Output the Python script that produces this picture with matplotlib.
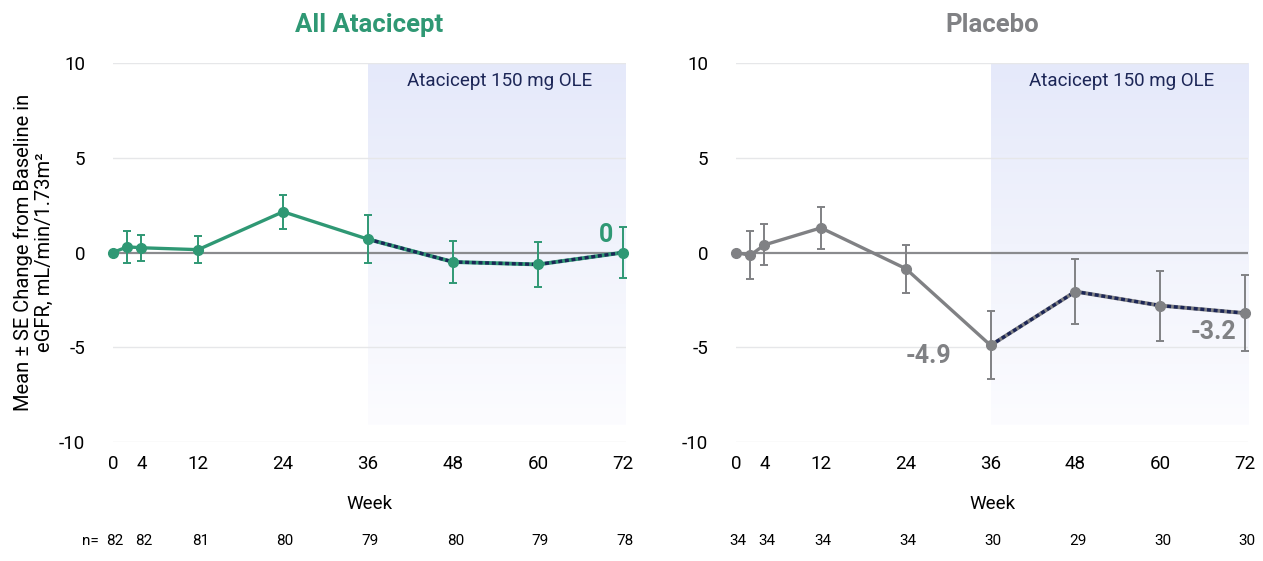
import numpy as np
import matplotlib
matplotlib.use("Agg")
import matplotlib.pyplot as plt
from matplotlib.colors import LinearSegmentedColormap

plt.rcParams['font.family'] = ['Roboto', 'DejaVu Sans']
plt.rcParams['axes.unicode_minus'] = False

# Visit weeks with measurements, and the weeks shown on the x axis
weeks = [0, 2, 4, 12, 24, 36, 48, 60, 72]
tick_weeks = [0, 4, 12, 24, 36, 48, 60, 72]

# Mean change in eGFR and standard error per visit
atacicept_mean = [0.0, 0.3, 0.25, 0.15, 2.15, 0.7, -0.5, -0.63, 0.0]
atacicept_se = [0.0, 0.83, 0.7, 0.7, 0.9, 1.27, 1.1, 1.2, 1.32]
placebo_mean = [0.0, -0.15, 0.4, 1.3, -0.85, -4.9, -2.06, -2.8, -3.2]
placebo_se = [0.0, 1.27, 1.08, 1.12, 1.27, 1.8, 1.73, 1.85, 2.0]

# Patients at each x tick
atacicept_n = [82, 82, 81, 80, 79, 80, 79, 78]
placebo_n = [34, 34, 34, 34, 30, 29, 30, 30]

GREEN = '#2F9874'
GREY = '#808184'
NAVY = '#1C2657'
OLE_START = 36

shade_cmap = LinearSegmentedColormap.from_list('ole', ['#FCFCFF', '#F1F3FC', '#E5E9FA'])


def draw_panel(ax, title, colour, mean, se, n_values, first_panel):
    ax.set_xlim(0, 72.4)
    ax.set_ylim(-10, 10)

    # open-label extension shading, fading towards the bottom
    grad = np.linspace(0, 1, 256).reshape(-1, 1)
    ax.imshow(grad, cmap=shade_cmap, origin='lower', aspect='auto',
              extent=[OLE_START, 72.4, -9.1, 10], zorder=0)
    ax.text(54.5, 9.05, 'Atacicept 150 mg OLE', color=NAVY, fontsize=13.5,
            ha='center', va='center', zorder=2)

    for y in [-10, -5, 5, 10]:
        ax.axhline(y, color='#E6E7E9', lw=1, zorder=1)
    ax.axhline(0, color='#8A8B8E', lw=1.6, zorder=1)

    # double-blind period solid, OLE period with navy dotted overlay
    split = weeks.index(OLE_START)
    ax.plot(weeks[:split + 1], mean[:split + 1], color=colour, lw=2.4, zorder=3)
    ax.plot(weeks[split:], mean[split:], color=colour, lw=2.8, zorder=3)
    ax.plot(weeks[split:], mean[split:], color=NAVY, lw=2.4, ls=(0, (1.2, 0.8)), zorder=4)
    ax.errorbar(weeks, mean, yerr=se, fmt='o', color=colour, ms=7, elinewidth=1.4,
                capsize=3, capthick=1.4, zorder=5, clip_on=False)

    ax.set_xticks(tick_weeks)
    ax.set_yticks([-10, -5, 0, 5, 10])
    ax.tick_params(length=0, labelsize=13.5, pad=9)
    ax.tick_params(axis='y', pad=20)
    for s in ax.spines.values():
        s.set_visible(False)

    ax.set_title(title, color=colour, fontsize=18.5, fontweight='bold', pad=22)
    ax.set_xlabel('Week', fontsize=13.5, labelpad=16)

    # patients at risk row under the axis
    for w, n in zip(tick_weeks, n_values):
        ax.text(w + 0.3, -15.2, str(n), fontsize=11, ha='center', va='center',
                transform=ax.transData, clip_on=False)
    if first_panel:
        ax.text(-2.0, -15.2, 'n=', fontsize=11, ha='right', va='center', clip_on=False)


fig = plt.figure(figsize=(12.63, 5.61), dpi=100)
ax1 = fig.add_axes([0.0895, 0.2121, 0.4062, 0.6756])
ax2 = fig.add_axes([0.5828, 0.2121, 0.4053, 0.6756])

draw_panel(ax1, 'All Atacicept', GREEN, atacicept_mean, atacicept_se, atacicept_n, True)
draw_panel(ax2, 'Placebo', GREY, placebo_mean, placebo_se, placebo_n, False)

ax1.set_ylabel('Mean \u00b1 SE Change from Baseline in\neGFR, mL/min/1.73m\u00b2', fontsize=14.5,
               labelpad=4, linespacing=1.1)

ax1.text(70.6, 0.9, '0', color=GREEN, fontsize=18, fontweight='bold', ha='right', va='center')
ax2.text(30.5, -5.45, '-4.9', color=GREY, fontsize=18, fontweight='bold', ha='right', va='center')
ax2.text(70.8, -4.2, '-3.2', color=GREY, fontsize=18, fontweight='bold', ha='right', va='center')

fig.savefig('out.png', dpi=100, facecolor='white')
